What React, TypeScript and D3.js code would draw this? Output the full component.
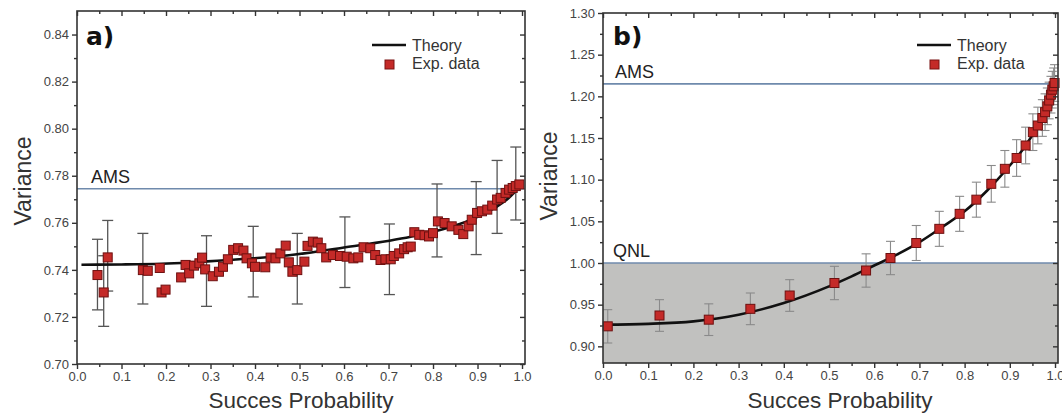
import React, { useEffect, useRef } from "react";
import * as d3 from "d3";

// ---- panel a) data ----
const probA = [0.046, 0.060, 0.069, 0.148, 0.159, 0.186, 0.190, 0.199, 0.234, 0.244, 0.252, 0.263, 0.275, 0.281, 0.288, 0.305, 0.319, 0.328, 0.339, 0.351,
  0.362, 0.374, 0.381, 0.393, 0.400, 0.423, 0.435, 0.446, 0.457, 0.469, 0.476, 0.484, 0.495, 0.511, 0.518, 0.530, 0.541, 0.549, 0.560, 0.575,
  0.591, 0.606, 0.621, 0.632, 0.644, 0.659, 0.670, 0.682, 0.693, 0.705, 0.712, 0.724, 0.735, 0.743, 0.750, 0.758, 0.769, 0.781, 0.791, 0.800,
  0.811, 0.826, 0.842, 0.857, 0.868, 0.880, 0.887, 0.899, 0.910, 0.922, 0.933, 0.944, 0.952, 0.963, 0.971, 0.979, 0.986, 0.994];
const varA = [0.7378, 0.7304, 0.7453, 0.7399, 0.7396, 0.7408, 0.7304, 0.7316, 0.7368, 0.7421, 0.7385, 0.7418, 0.7428, 0.7452, 0.7402, 0.7373, 0.7392, 0.7413, 0.7445, 0.7485,
  0.7492, 0.7482, 0.7449, 0.7428, 0.7413, 0.7411, 0.7452, 0.7449, 0.7470, 0.7503, 0.7432, 0.7392, 0.7399, 0.7435, 0.7502, 0.7520, 0.7516, 0.7492, 0.7453, 0.7463,
  0.7459, 0.7456, 0.7449, 0.7453, 0.7496, 0.7492, 0.7463, 0.7442, 0.7445, 0.7445, 0.7459, 0.7470, 0.7488, 0.7496, 0.7499, 0.7560, 0.7549, 0.7547, 0.7542, 0.7556,
  0.7606, 0.7599, 0.7585, 0.7570, 0.7552, 0.7585, 0.7613, 0.7642, 0.7649, 0.7656, 0.7673, 0.7699, 0.7706, 0.7727, 0.7741, 0.7748, 0.7756, 0.7763];
const barProbA = [0.046, 0.060, 0.069, 0.148, 0.291, 0.396, 0.495, 0.602, 0.702, 0.809, 0.897, 0.944, 0.986];
const barVarA = [0.738, 0.731, 0.746, 0.7405, 0.7395, 0.7435, 0.7405, 0.7475, 0.7445, 0.761, 0.762, 0.771, 0.7767];
const barErrA = [0.015, 0.015, 0.015, 0.015, 0.015, 0.015, 0.015, 0.015, 0.015, 0.0155, 0.0155, 0.0155, 0.0155];
const theoryProbA = [0.01, 0.1, 0.19, 0.34, 0.49, 0.6, 0.75, 0.8, 0.86, 0.9, 0.94, 0.97, 1.0];
const theoryVarA = [0.7422, 0.7423, 0.7426, 0.7442, 0.7465, 0.7495, 0.7541, 0.7562, 0.7595, 0.7625, 0.7665, 0.7705, 0.7765];
const amsA = 0.7745;

// ---- panel b) data ----
const probB = [0.0105, 0.125, 0.234, 0.326, 0.413, 0.512, 0.582, 0.636, 0.693, 0.744, 0.789, 0.826, 0.859, 0.889, 0.915, 0.935,
  0.951, 0.962, 0.972, 0.978, 0.983, 0.987, 0.991, 0.994, 0.997, 0.999];
const varB = [0.924, 0.937, 0.932, 0.945, 0.961, 0.976, 0.991, 1.006, 1.024, 1.041, 1.059, 1.076, 1.095, 1.113, 1.126, 1.141,
  1.157, 1.165, 1.174, 1.181, 1.188, 1.195, 1.202, 1.208, 1.212, 1.216];
const errB = [0.020, 0.019, 0.019, 0.019, 0.019, 0.020, 0.020, 0.020, 0.021, 0.021, 0.021, 0.021, 0.022, 0.022, 0.022, 0.022,
  0.022, 0.022, 0.022, 0.022, 0.022, 0.022, 0.022, 0.022, 0.022, 0.022];
const theoryProbB = [0, 0.1, 0.2, 0.3, 0.4, 0.5, 0.55, 0.6, 0.65, 0.7, 0.75, 0.8, 0.85, 0.9, 0.93, 0.96, 0.98, 1.0];
const theoryVarB = [0.926, 0.927, 0.930, 0.938, 0.952, 0.972, 0.984, 0.997, 1.010, 1.025, 1.043, 1.062, 1.087, 1.117, 1.137, 1.163, 1.185, 1.218];
const amsB = 1.215;
const qnlB = 1.0;

// tick labels
const xTicks = [0, 0.1, 0.2, 0.3, 0.4, 0.5, 0.6, 0.7, 0.8, 0.9, 1.0];
const xMinor = [0.05, 0.15, 0.25, 0.35, 0.45, 0.55, 0.65, 0.75, 0.85, 0.95];
const yTicksA = [0.70, 0.72, 0.74, 0.76, 0.78, 0.80, 0.82, 0.84];
const yMinorA = [0.71, 0.73, 0.75, 0.77, 0.79, 0.81, 0.83, 0.85];
const yTicksB = [0.90, 0.95, 1.00, 1.05, 1.10, 1.15, 1.20, 1.25, 1.30];
const yMinorB = [0.925, 0.975, 1.025, 1.075, 1.125, 1.175, 1.225, 1.275];

const FONT = "'Liberation Sans', Arial, sans-serif";
const RED = "#c42a28";
const LINE_BLUE = "#6f8aac";

function drawFrame(g, x, y, yTicks, yMinor) {
  const [x0, x1] = x.range();
  const [y0, y1] = y.range();
  const minorY = yMinor.filter(v => v < y.domain()[1]);

  const axes = [
    { a: d3.axisBottom(x).tickValues(xTicks).tickFormat(d3.format(".1f")).tickSize(5), t: `translate(0,${y0})` },
    { a: d3.axisBottom(x).tickValues(xMinor).tickFormat(() => "").tickSize(3), t: `translate(0,${y0})` },
    { a: d3.axisTop(x).tickValues(xTicks).tickFormat(() => "").tickSize(-5), t: `translate(0,${y1})` },
    { a: d3.axisTop(x).tickValues(xMinor).tickFormat(() => "").tickSize(-3), t: `translate(0,${y1})` },
    { a: d3.axisLeft(y).tickValues(yTicks).tickFormat(d3.format(".2f")).tickSize(5), t: `translate(${x0},0)` },
    { a: d3.axisLeft(y).tickValues(minorY).tickFormat(() => "").tickSize(3), t: `translate(${x0},0)` },
    { a: d3.axisRight(y).tickValues(yTicks).tickFormat(() => "").tickSize(-5), t: `translate(${x1},0)` },
    { a: d3.axisRight(y).tickValues(minorY).tickFormat(() => "").tickSize(-3), t: `translate(${x1},0)` },
  ];
  axes.forEach(ax => {
    const ag = g.append("g").attr("transform", ax.t).call(ax.a.tickSizeOuter(0).tickPadding(3));
    ag.select(".domain").remove();
    ag.selectAll("line").attr("stroke", "#333").attr("stroke-width", 1.4);
    ag.selectAll("text").attr("font-family", FONT).attr("font-size", 13).attr("fill", "#444");
  });

  g.append("rect")
    .attr("x", x0).attr("y", y1)
    .attr("width", x1 - x0).attr("height", y0 - y1)
    .attr("fill", "none").attr("stroke", "#333").attr("stroke-width", 1.6);
}

function drawLegend(g, lx, ly) {
  g.append("line").attr("x1", lx).attr("x2", lx + 34).attr("y1", ly).attr("y2", ly)
    .attr("stroke", "#111").attr("stroke-width", 2.5);
  g.append("text").attr("x", lx + 40).attr("y", ly + 6).text("Theory")
    .attr("font-family", FONT).attr("font-size", 16).attr("fill", "#333");
  g.append("rect").attr("x", lx + 13).attr("y", ly + 15).attr("width", 9).attr("height", 9)
    .attr("fill", RED).attr("stroke", "#7a1212");
  g.append("text").attr("x", lx + 40).attr("y", ly + 24).text("Exp. data")
    .attr("font-family", FONT).attr("font-size", 16).attr("fill", "#333");
}

function drawPoints(g, x, y, px, py, size) {
  g.selectAll(null)
    .data(px.map((d, i) => [d, py[i]]))
    .join("rect")
    .attr("x", d => x(d[0]) - size / 2)
    .attr("y", d => y(d[1]) - size / 2)
    .attr("width", size).attr("height", size)
    .attr("fill", RED).attr("stroke", "#6e1010").attr("stroke-width", 1);
}

function drawBars(g, x, y, bx, by, be, color, cap, width) {
  const data = bx.map((d, i) => ({ x: d, y: by[i], e: be[i] }));
  const bars = g.selectAll(null).data(data).join("g").attr("stroke", color).attr("stroke-width", width);
  bars.append("line").attr("x1", d => x(d.x)).attr("x2", d => x(d.x))
    .attr("y1", d => y(d.y - d.e)).attr("y2", d => y(d.y + d.e));
  bars.append("line").attr("x1", d => x(d.x) - cap).attr("x2", d => x(d.x) + cap)
    .attr("y1", d => y(d.y + d.e)).attr("y2", d => y(d.y + d.e));
  bars.append("line").attr("x1", d => x(d.x) - cap).attr("x2", d => x(d.x) + cap)
    .attr("y1", d => y(d.y - d.e)).attr("y2", d => y(d.y - d.e));
}

function drawTheory(g, x, y, tx, ty) {
  const line = d3.line().x(d => x(d[0])).y(d => y(d[1])).curve(d3.curveMonotoneX);
  g.append("path").attr("d", line(tx.map((d, i) => [d, ty[i]])))
    .attr("fill", "none").attr("stroke", "#111").attr("stroke-width", 2.6);
}

function hLine(g, x, y, v, label, lx) {
  const [x0, x1] = x.range();
  g.append("line").attr("x1", x0).attr("x2", x1).attr("y1", y(v)).attr("y2", y(v))
    .attr("stroke", LINE_BLUE).attr("stroke-width", 1.6);
  g.append("text").attr("x", lx).attr("y", y(v) - 6).text(label)
    .attr("font-family", FONT).attr("font-size", 18).attr("fill", "#222");
}

function titles(g, tx, ty, lx, ly, pan, px) {
  g.append("text").attr("x", tx).attr("y", ty).attr("text-anchor", "middle")
    .attr("font-family", FONT).attr("font-size", 22.5).attr("fill", "#333").text("Succes Probability");
  g.append("text").attr("transform", `translate(${lx},${ly}) rotate(-90)`).attr("text-anchor", "middle")
    .attr("font-family", FONT).attr("font-size", 23).attr("fill", "#333").text("Variance");
  g.append("text").attr("x", px).attr("y", 45).text(pan)
    .attr("font-family", "'DejaVu Sans', sans-serif").attr("font-weight", "bold").attr("font-size", 25).attr("fill", "#111");
}

export default function App() {
  const ref = useRef(null);

  useEffect(() => {
    const svg = d3.select(ref.current);
    svg.selectAll("*").remove();

    // panel a
    const xa = d3.scaleLinear().domain([0, 1.0067]).range([77, 525]);
    const ya = d3.scaleLinear().domain([0.70, 0.85]).range([364, 11]);
    const ga = svg.append("g");
    hLine(ga, xa, ya, amsA, "AMS", 91);
    drawBars(ga, xa, ya, barProbA, barVarA, barErrA, "#555", 5.5, 1.3);
    drawTheory(ga, xa, ya, theoryProbA, theoryVarA);
    drawPoints(ga, xa, ya, probA, varA, 9);
    drawFrame(ga, xa, ya, yTicksA, yMinorA);
    drawLegend(ga, 372, 45);
    titles(ga, 301, 408, 31, 181, "a)", 86);

    // panel b
    const xb = d3.scaleLinear().domain([0, 1.0066]).range([603, 1058]);
    const yb = d3.scaleLinear().domain([0.88, 1.30]).range([363, 13]);
    const gb = svg.append("g");
    gb.append("rect").attr("x", 603).attr("y", yb(qnlB)).attr("width", 1058 - 603).attr("height", yb(0.88) - yb(qnlB))
      .attr("fill", "#c1c1bf");
    hLine(gb, xb, yb, amsB, "AMS", 615);
    hLine(gb, xb, yb, qnlB, "QNL", 613);
    drawBars(gb, xb, yb, probB, varB, errB, "#8a8a8a", 4.5, 1.1);
    drawTheory(gb, xb, yb, theoryProbB, theoryVarB);
    drawPoints(gb, xb, yb, probB, varB, 9);
    drawFrame(gb, xb, yb, yTicksB, yMinorB);
    drawLegend(gb, 917, 45);
    titles(gb, 840, 408, 557, 176, "b)", 613);
  }, []);

  return (
    <svg ref={ref} width={1062} height={416}
      style={{ position: "absolute", left: 0, top: 0, background: "#fff" }} />
  );
}
